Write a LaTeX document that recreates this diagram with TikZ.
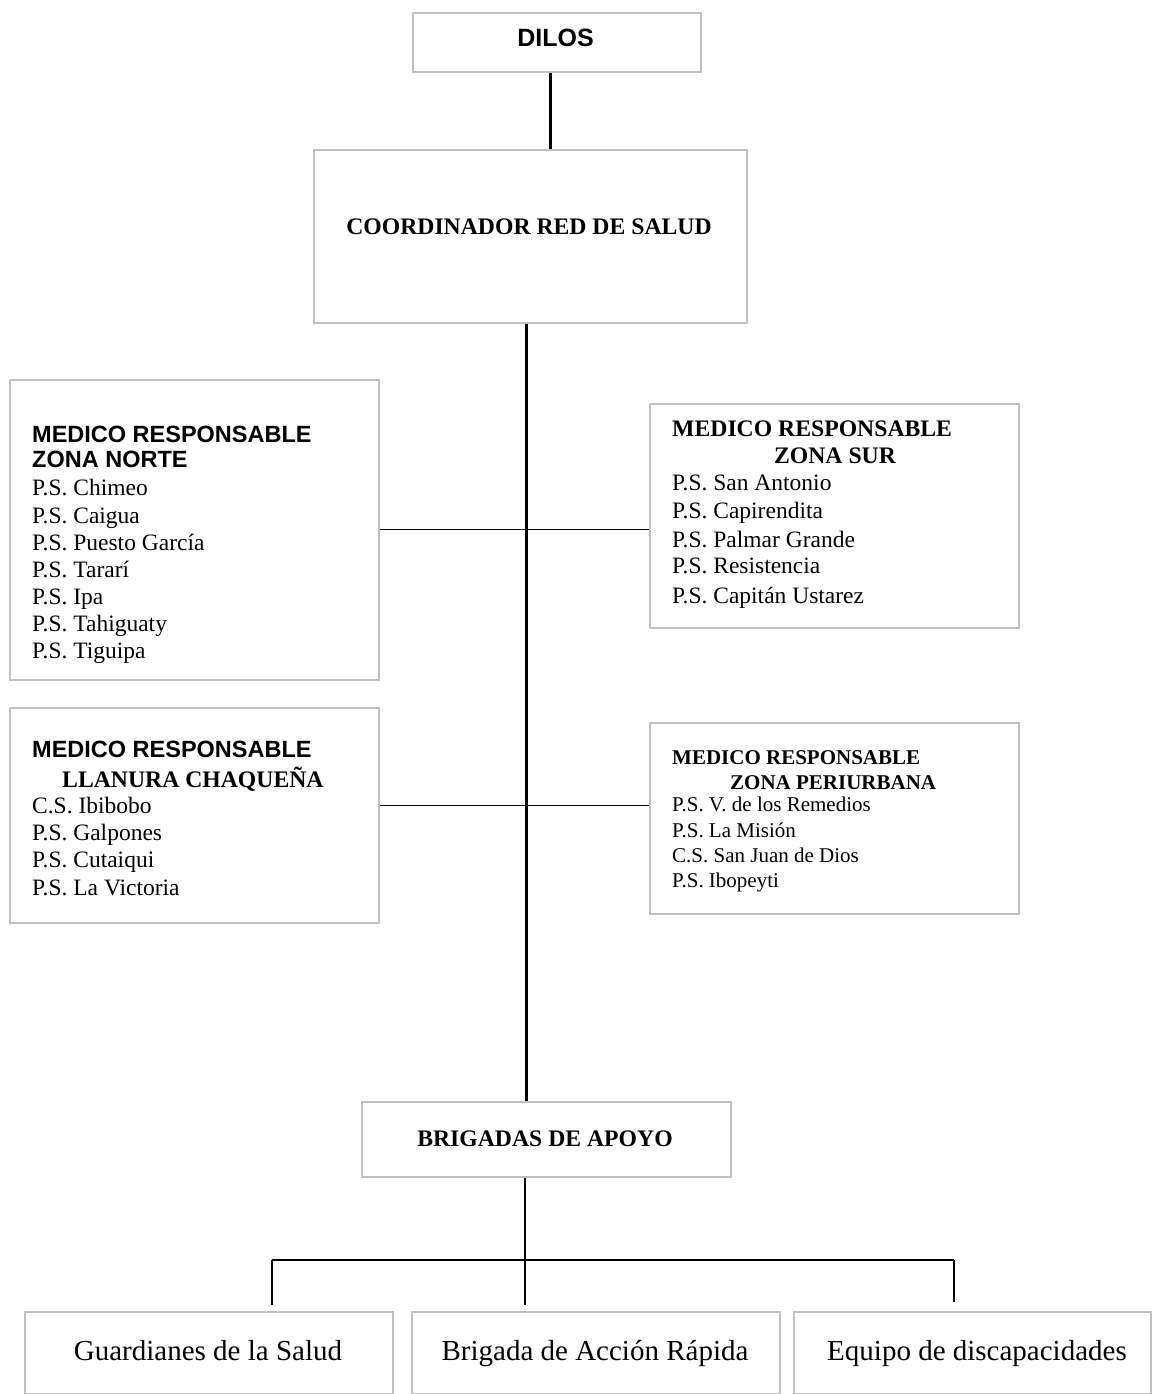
\documentclass[tikz,border=0pt]{standalone}
\usepackage{fontspec}
\setmainfont{Liberation Serif}
\newfontfamily\arialfont{Liberation Sans}
\definecolor{boxgray}{HTML}{C0C0C0}
\begin{document}
\begin{tikzpicture}[x=1pt,y=-1pt,
  box/.style={draw=boxgray,line width=1.5pt,fill=white,inner sep=0pt,anchor=north west},
  topbox/.style={box,line width=2pt},
  trunk/.style={line width=3pt,black},
  branch/.style={line width=1.4pt,black},
  lbl/.style={inner sep=0pt,anchor=base west},
  rm/.style={font=\fontsize{23.5}{26}\selectfont},
  rmsmall/.style={font=\fontsize{21}{24}\selectfont},
  rmbold/.style={font=\fontsize{23.7}{26}\selectfont\bfseries},
  rmboldsmall/.style={font=\fontsize{21}{24}\selectfont\bfseries},
  sfbold/.style={font=\fontsize{23.5}{26}\selectfont\arialfont\bfseries},
  rmlarge/.style={font=\fontsize{29}{32}\selectfont}]
\useasboundingbox (0,0) rectangle (1151,1394);

% boxes
\node[topbox,minimum width=288pt,minimum height=59pt]  (dilos)   at (412,12)   {};
\node[topbox,minimum width=433pt,minimum height=173pt] (coord)   at (313,149)  {};
\node[box,minimum width=369pt,minimum height=300pt]    (norte)   at (9,379)    {};
\node[box,minimum width=369pt,minimum height=224pt]    (sur)     at (649,403)  {};
\node[box,minimum width=369pt,minimum height=215pt]    (llanura) at (9,707)    {};
\node[box,minimum width=369pt,minimum height=191pt]    (peri)    at (649,722)  {};
\node[box,minimum width=369pt,minimum height=75pt]     (brig)    at (361,1101) {};
\node[box,minimum width=368pt,minimum height=82pt]     (g1)      at (24,1311)  {};
\node[box,minimum width=368pt,minimum height=82pt]     (g2)      at (411,1311) {};
\node[box,minimum width=357pt,minimum height=82pt]     (g3)      at (793,1311) {};

% titles
\node[inner sep=0pt,anchor=base,font=\fontsize{25}{28}\selectfont\arialfont\bfseries] (tdilos) at (555.5,47) {DILOS};
\node[inner sep=0pt,anchor=base,rmbold] (tcoord) at (529,234) {COORDINADOR RED DE SALUD};
\node[inner sep=0pt,anchor=base,rmbold] (tbrig) at (545,1146) {BRIGADAS DE APOYO};

% zona norte
\node[lbl,sfbold] (hn1) at (32,442) {MEDICO RESPONSABLE};
\node[lbl,sfbold] (hn2) at (32,467) {ZONA NORTE};
\foreach \t/\y [count=\i] in {Chimeo/495,Caigua/523,Puesto García/550,Tararí/577,Ipa/604,Tahiguaty/631,Tiguipa/658}
  \node[lbl,rm] (n\i) at (32,\y) {P.S. \t};

% zona sur
\node[lbl,rmbold] (hs1) at (672,436) {MEDICO RESPONSABLE};
\node[inner sep=0pt,anchor=base,rmbold] (hs2) at (835,463) {ZONA SUR};
\foreach \t/\y [count=\i] in {San Antonio/490,Capirendita/518,Palmar Grande/547,Resistencia/573,Capitán Ustarez/603}
  \node[lbl,rm] (s\i) at (672,\y) {P.S. \t};

% llanura chaqueña
\node[lbl,sfbold] (hl1) at (32,757) {MEDICO RESPONSABLE};
\node[lbl,rmbold] (hl2) at (62,787) {LLANURA CHAQUEÑA};
\foreach \t/\y [count=\i] in {C.S. Ibibobo/813,P.S. Galpones/840,P.S. Cutaiqui/867,P.S. La Victoria/895}
  \node[lbl,rm] (l\i) at (32,\y) {\t};

% zona periurbana
\node[lbl,rmboldsmall] (hp1) at (672,764) {MEDICO RESPONSABLE};
\node[lbl,rmboldsmall] (hp2) at (730,789) {ZONA PERIURBANA};
\foreach \t/\y [count=\i] in {P.S. V. de los Remedios/811,P.S. La Misión/837,C.S. San Juan de Dios/862,P.S. Ibopeyti/887}
  \node[lbl,rmsmall] (p\i) at (672,\y) {\t};

% support teams
\node[inner sep=0pt,anchor=base,rmlarge] (tg1) at (208,1360) {Guardianes de la Salud};
\node[inner sep=0pt,anchor=base,rmlarge] (tg2) at (595,1360) {Brigada de Acción Rápida};
\node[inner sep=0pt,anchor=base,rmlarge] (tg3) at (977,1360) {Equipo de discapacidades};

% connectors
\coordinate (dl) at ([xshift=-7pt]dilos.south);
\draw[trunk] (dl) -- (dl |- coord.north);
\coordinate (ct) at ([xshift=-4.5pt]coord.south);
\draw[trunk] (ct) -- (ct |- brig.north);
\draw[branch] (norte.east) -- (norte.east -| sur.west);
\coordinate (le) at ([yshift=9.5pt]llanura.east);
\draw[branch] (le) -- (le -| peri.west);
\coordinate (bus) at (525,1260);
\draw[branch] (bus |- brig.south) -- (bus);
\coordinate (b1) at (272,1260);
\coordinate (b3) at (954,1260);
\draw[branch] (b1) -- (b3);
\draw[branch] (b1) -- ([yshift=6pt]g1.north -| b1);
\draw[branch] (bus) -- ([yshift=6pt]g2.north -| bus);
\draw[branch] (b3) -- ([yshift=9pt]g3.north -| b3);
\end{tikzpicture}
\end{document}
